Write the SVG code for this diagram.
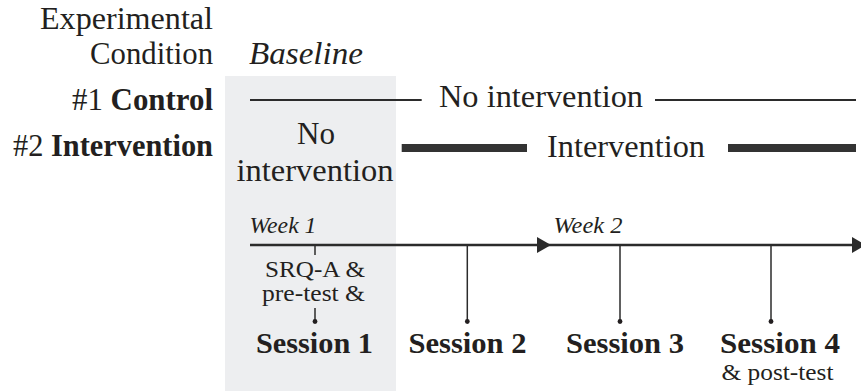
<svg xmlns="http://www.w3.org/2000/svg" width="861" height="391" viewBox="0 0 861 391">
<style>
text{font-family:"Liberation Serif","DejaVu Serif","Noto Serif",serif;fill:#231f20}
.lg{font-size:31px}
.b{font-weight:bold}
.i{font-style:italic}
.sm{font-size:24px}
.wk{font-size:23px;font-style:italic}
.ses{font-size:30px;font-weight:bold}
.thin{stroke:#2b2b2b;stroke-width:2;fill:none}
.thick{stroke:#333;stroke-width:8;fill:none}
.axis{stroke:#2b2b2b;stroke-width:2.5;fill:none}
.tick{stroke:#2b2b2b;stroke-width:1.5;fill:none}
.dot{fill:#231f20}
</style>
<defs>
<marker id="arr" markerUnits="userSpaceOnUse" markerWidth="15" markerHeight="17" refX="14.5" refY="8.3" orient="auto">
<path d="M0,0 L14.5,8.3 L0,16.6 z" fill="#2b2b2b"/>
</marker>
</defs>
<rect id="baseline-box" x="225" y="76" width="171" height="315" fill="#edeef0"/>
<g id="header">
<text class="lg" x="213" y="28.5" text-anchor="end" textLength="173" lengthAdjust="spacingAndGlyphs">Experimental</text>
<text class="lg" x="213" y="63.5" text-anchor="end" textLength="123" lengthAdjust="spacingAndGlyphs">Condition</text>
<text class="lg i" x="249" y="63.5" textLength="114" lengthAdjust="spacingAndGlyphs">Baseline</text>
</g>
<g id="cond1">
<text class="lg" x="213" y="110" text-anchor="end" textLength="141" lengthAdjust="spacingAndGlyphs">#1 <tspan class="b">Control</tspan></text>
<text class="lg" x="439" y="107" textLength="204" lengthAdjust="spacingAndGlyphs">No intervention</text>
</g>
<g id="cond2">
<text class="lg" x="213" y="156" text-anchor="end" textLength="200" lengthAdjust="spacingAndGlyphs">#2 <tspan class="b">Intervention</tspan></text>
<text class="lg" x="547" y="156.5" textLength="158" lengthAdjust="spacingAndGlyphs">Intervention</text>
<text class="lg" x="316" y="143.5" text-anchor="middle" textLength="38" lengthAdjust="spacingAndGlyphs">No</text>
<text class="lg" x="315" y="181" text-anchor="middle" textLength="157" lengthAdjust="spacingAndGlyphs">intervention</text>
</g>
<g id="week1"><text class="wk" x="249.5" y="232.5" textLength="67" lengthAdjust="spacingAndGlyphs">Week 1</text></g>
<g id="week2"><text class="wk" x="553.5" y="232.5" textLength="69" lengthAdjust="spacingAndGlyphs">Week 2</text></g>
<g id="session1">
<text class="sm" x="365" y="277" text-anchor="end" textLength="100" lengthAdjust="spacingAndGlyphs">SRQ-A &amp;</text>
<text class="sm" x="365" y="301" text-anchor="end" textLength="103" lengthAdjust="spacingAndGlyphs">pre-test &amp;</text>
<text class="ses" x="314.5" y="352.5" text-anchor="middle" textLength="117" lengthAdjust="spacingAndGlyphs">Session 1</text>
</g>
<g id="session2"><text class="ses" x="467.5" y="352.5" text-anchor="middle" textLength="118" lengthAdjust="spacingAndGlyphs">Session 2</text></g>
<g id="session3"><text class="ses" x="625" y="352.5" text-anchor="middle" textLength="118" lengthAdjust="spacingAndGlyphs">Session 3</text></g>
<g id="session4">
<text class="ses" x="780" y="352.5" text-anchor="middle" textLength="120" lengthAdjust="spacingAndGlyphs">Session 4</text>
<text class="sm" x="721.5" y="380" textLength="112" lengthAdjust="spacingAndGlyphs">&amp; post-test</text>
</g>
<g id="connectors">
<line class="thin" x1="250" y1="100" x2="421.7" y2="100"/>
<line class="thin" x1="655" y1="100" x2="856" y2="100"/>
<line class="thick" x1="401.7" y1="148" x2="527" y2="148"/>
<line class="thick" x1="728" y1="148" x2="856" y2="148"/>
<line class="axis" x1="250" y1="245" x2="551" y2="245" marker-end="url(#arr)"/>
<line class="axis" x1="551" y1="245" x2="866" y2="245" marker-end="url(#arr)"/>
<line class="tick" x1="315" y1="245" x2="315" y2="255"/>
<line class="tick" x1="315" y1="308" x2="315" y2="321.5"/>
<line class="tick" x1="467.3" y1="245" x2="467.3" y2="321.5"/>
<line class="tick" x1="620" y1="245" x2="620" y2="321.5"/>
<line class="tick" x1="771" y1="245" x2="771" y2="321.5"/>
<circle class="dot" cx="315" cy="321.5" r="2.4"/>
<circle class="dot" cx="467.3" cy="321.5" r="2.4"/>
<circle class="dot" cx="620" cy="321.5" r="2.4"/>
<circle class="dot" cx="771" cy="321.5" r="2.4"/>
</g>
</svg>
